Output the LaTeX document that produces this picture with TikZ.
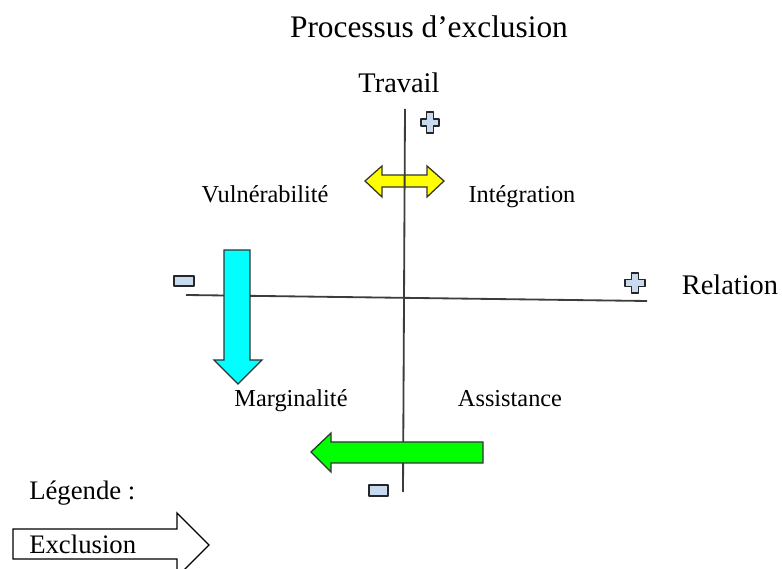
\documentclass[tikz,border=0pt]{standalone}
\usepackage{fontspec}
\setmainfont{Liberation Serif}
\definecolor{signfill}{RGB}{200,218,240}
\definecolor{axisgray}{RGB}{60,60,60}
\definecolor{aqua}{RGB}{0,255,255}
\definecolor{lime}{RGB}{0,255,0}
\definecolor{lemon}{RGB}{255,255,0}
\tikzset{
  axis/.style={draw=axisgray, line width=1.3},
  blockarrow/.style={draw=black!80, line width=0.9, line join=miter},
  sign/.style={draw=black!85, fill=signfill, line width=1.1, line join=round},
  label/.style={anchor=base, inner sep=0pt, font=\fontsize{17.3}{20}\selectfont},
  axislabel/.style={anchor=base, inner sep=0pt, font=\fontsize{20.2}{24}\selectfont}
}
\begin{document}
\begin{tikzpicture}[x=0.025cm,y=-0.025cm]
\useasboundingbox (0,0) rectangle (782,569);
\clip (0,0) rectangle (782,569);

\node[anchor=base, inner sep=0pt, font=\fontsize{22.3}{26}\selectfont] (title) at (429,38) {Processus d'exclusion};

% yellow double arrow under the axis
\draw[blockarrow, fill=lemon] (365,181) -- (382,166) -- (382,175) -- (427,175) -- (427,166)
  -- (444,181) -- (427,197) -- (427,187) -- (382,187) -- (382,197) -- cycle;

\coordinate (ytop) at (405,109);
\coordinate (ybot) at (403,492);
\coordinate (xleft) at (186,295);
\coordinate (xright) at (647,301);
\draw[axis] (ytop) -- (ybot);
\draw[axis] (xleft) -- (xright);

\draw[blockarrow, fill=aqua] (224,250) -- (250,250) -- (250,360) -- (262,360) -- (238,384)
  -- (214,360) -- (224,360) -- cycle;
\draw[blockarrow, fill=lime] (311,452) -- (331,433) -- (331,442) -- (483,442) -- (483,463)
  -- (331,463) -- (331,472) -- cycle;

% plus and minus signs
\draw[sign] (426.5,112) -- (433.5,112) -- (433.5,119) -- (439,119) -- (439,126) -- (433.5,126)
  -- (433.5,133) -- (426.5,133) -- (426.5,126) -- (421,126) -- (421,119) -- (426.5,119) -- cycle;
\draw[sign] (631.5,273) -- (638.5,273) -- (638.5,279.5) -- (645,279.5) -- (645,286.5) -- (638.5,286.5)
  -- (638.5,293) -- (631.5,293) -- (631.5,286.5) -- (625,286.5) -- (625,279.5) -- (631.5,279.5) -- cycle;
\draw[sign] (174,276) rectangle (194,286);
\draw[sign] (369,485) rectangle (388,496);

\node[axislabel] (travail) at (399,93) {Travail};
\node[axislabel] (relation) at (730,295) {Relation};
\node[label] (vulnerabilite) at (265,203) {Vulnérabilité};
\node[label] (integration) at (522,203) {Intégration};
\node[label] (marginalite) at (291,407) {Marginalité};
\node[label] (assistance) at (510,407) {Assistance};

% legend
\node[anchor=base west, inner sep=0pt, font=\fontsize{19}{22}\selectfont] (legende) at (29,500) {Légende :};
\draw[blockarrow, fill=white, draw=black] (13,529) -- (177,529) -- (177,513) -- (209,545)
  -- (177,577) -- (177,559) -- (13,559) -- cycle;
\node[anchor=base west, inner sep=0pt, font=\fontsize{19}{22}\selectfont] (exclusion) at (29,553) {Exclusion};
\end{tikzpicture}
\end{document}
